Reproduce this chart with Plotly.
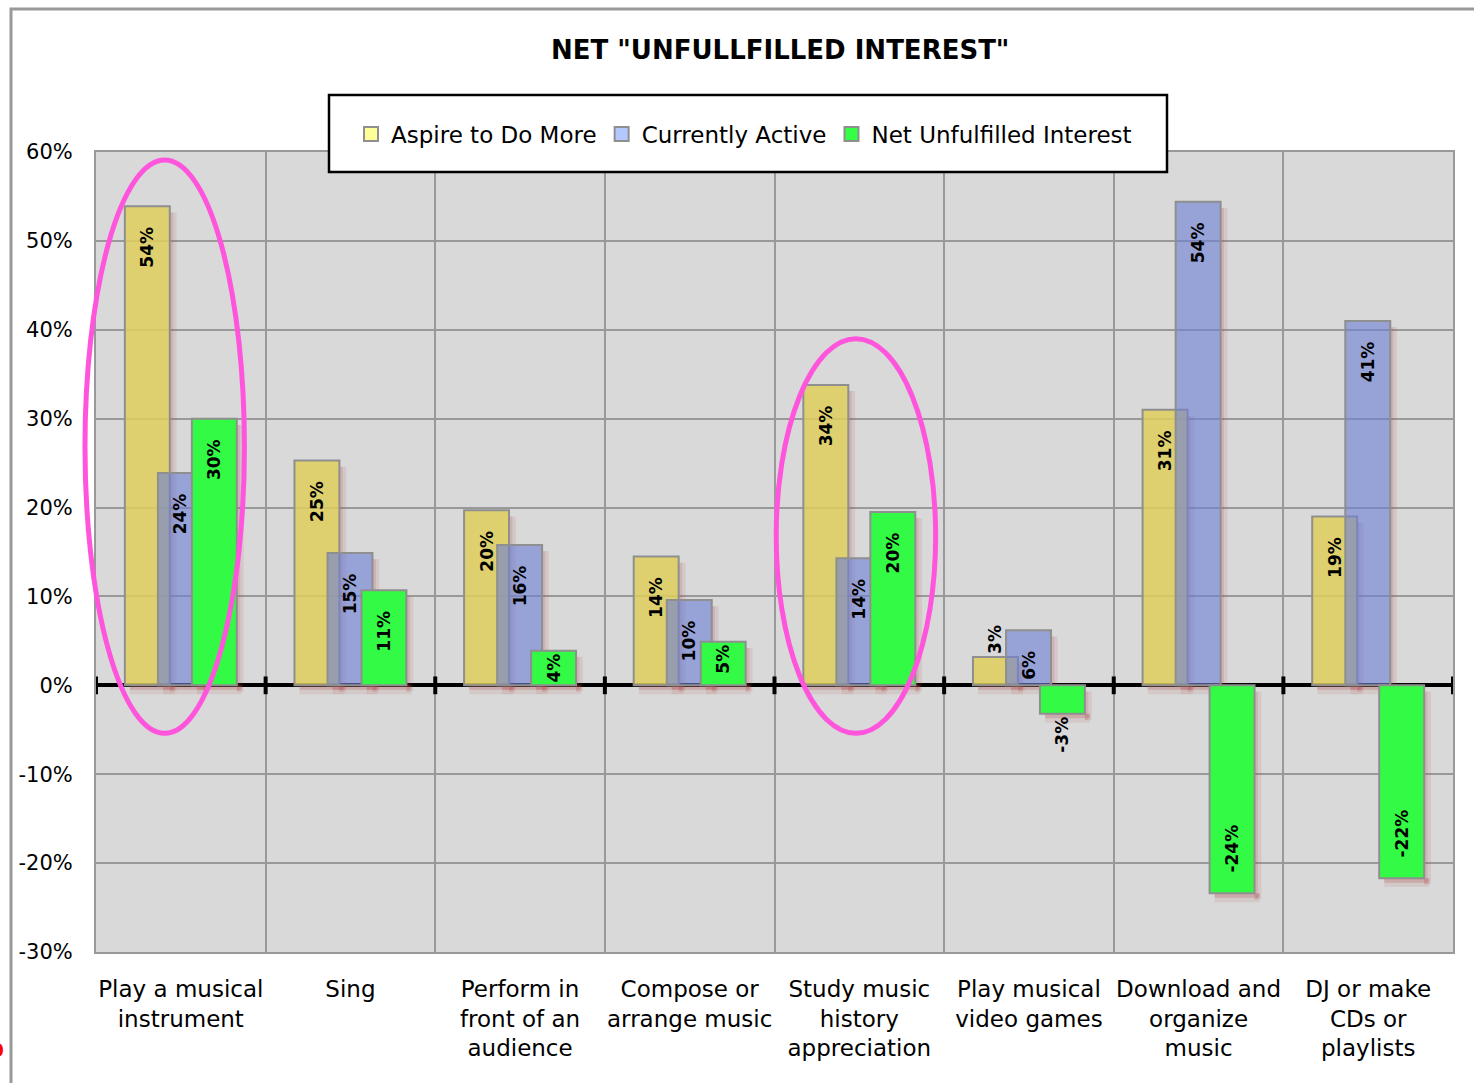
import plotly.graph_objects as go

# ---------------- data ----------------
categories = [
    "Play a musical<br>instrument",
    "Sing",
    "Perform in<br>front of an<br>audience",
    "Compose or<br>arrange music",
    "Study music<br>history<br>appreciation",
    "Play musical<br>video games",
    "Download and<br>organize<br>music",
    "DJ or make<br>CDs or<br>playlists",
]
aspire = [53.9, 25.3, 19.7, 14.5, 33.8, 3.2, 31.0, 19.0]
active = [23.9, 14.9, 15.8, 9.6, 14.3, 6.2, 54.4, 41.0]
net = [30.0, 10.7, 3.9, 4.9, 19.5, -3.2, -23.4, -21.7]
aspire_labels = ["54%", "25%", "20%", "14%", "34%", "3%", "31%", "19%"]
active_labels = ["24%", "15%", "16%", "10%", "14%", "6%", "54%", "41%"]
net_labels = ["30%", "11%", "4%", "5%", "20%", "-3%", "-24%", "-22%"]
series_names = ["Aspire to Do More", "Currently Active", "Net Unfulfilled Interest"]
highlighted = [0, 4]
y_ticks = [-30, -20, -10, 0, 10, 20, 30, 40, 50, 60]
y_tick_labels = ["-30%", "-20%", "-10%", "0%", "10%", "20%", "30%", "40%", "50%", "60%"]

# ---------------- geometry helpers ----------------
W, H = 1474, 1083
L, R, T, B = 96, 21, 152, 131
PW, PH = W - L - R, H - T - B
Y_MIN, Y_MAX = -30, 60
N = len(categories)


def px_x(p):
    return (p - L) / PW


def px_y(p):
    return (H - B - p) / PH


def cat_to_paper(x):
    return (x + 0.5) / N


def val_to_paper(v):
    return (v - Y_MIN) / (Y_MAX - Y_MIN)


FONT = "DejaVu Sans"
BAR_W = 0.265
offsets = [-0.33, -0.135, 0.065]
fills = ["rgba(222,206,91,0.85)", "rgba(109,128,212,0.62)", "rgba(51,250,68,1)"]
legend_fills = ["#FFFF99", "#B3C8FF", "#33FF44"]
values = [aspire, active, net]
labels = [aspire_labels, active_labels, net_labels]
ellipse_shift = {0: -0.095, 4: -0.02}
ELL_HALF_W = 0.47
NBSP = "\u00a0"
SHADOW = "rgba(175,70,70,{a})"

fig = go.Figure()

# soft drop shadows: a strip on the right side and a strip below each bar
for vals, off in zip(values, offsets):
    for dx, w, a in [(0.0, 0.02, 0.26), (0.02, 0.02, 0.12)]:
        fig.add_trace(go.Bar(
            x=categories, y=vals, base=-0.7, width=w, offset=off + BAR_W + dx,
            marker=dict(color=SHADOW.format(a=a), line=dict(width=0)),
            showlegend=False, hoverinfo="skip",
        ))
    lows = [min(v, 0) for v in vals]
    for dy, a in [(-0.5, 0.24), (-1.0, 0.10)]:
        fig.add_trace(go.Bar(
            x=categories, y=[dy] * len(vals), base=lows, width=BAR_W, offset=off + 0.03,
            marker=dict(color=SHADOW.format(a=a), line=dict(width=0)),
            showlegend=False, hoverinfo="skip",
        ))

# bars
for name, vals, labs, off, col in zip(series_names, values, labels, offsets, fills):
    pos = ["outside" if abs(v) < 3.5 else "inside" for v in vals]
    txt = []
    for v, s in zip(vals, labs):
        if abs(v) > 6:
            txt.append(s + NBSP * 3 if v > 0 else NBSP * 3 + s)
        else:
            txt.append(s)
    tf = dict(family=FONT, size=17, color="black", weight="bold")
    fig.add_trace(go.Bar(
        name=name, x=categories, y=vals, width=BAR_W, offset=off,
        text=txt, textposition=pos, textangle=-90,
        insidetextanchor="end",
        textfont=tf, insidetextfont=tf, outsidetextfont=tf,
        constraintext="none", cliponaxis=False,
        marker=dict(color=col, line=dict(color="#8f8f8f", width=2)),
        showlegend=False,
    ))

# legend entries
for name, col in zip(series_names, legend_fills):
    fig.add_trace(go.Scatter(
        name=name, x=[None], y=[None], mode="markers",
        marker=dict(symbol="square", size=14, color=col, line=dict(color="#8f8f8f", width=2)),
        showlegend=True,
    ))

shapes = []
# outer chart frame
shapes.append(dict(type="rect", xref="paper", yref="paper",
                   x0=px_x(11), x1=px_x(1500), y0=px_y(1110), y1=px_y(9),
                   line=dict(color="#999999", width=3), fillcolor="rgba(0,0,0,0)", layer="below"))
# zero-line tick marks at category boundaries
for i in range(N + 1):
    shapes.append(dict(type="line", xref="x", yref="y", x0=i - 0.5, x1=i - 0.5,
                       y0=-1.0, y1=1.0, line=dict(color="black", width=4)))
# legend box
shapes.append(dict(type="rect", xref="paper", yref="paper",
                   x0=px_x(329), x1=px_x(1167), y0=px_y(172), y1=px_y(95),
                   line=dict(color="black", width=2.5), fillcolor="white", layer="above"))
# highlight ellipses (paper refs so they are not clipped by the plot area)
for idx in highlighted:
    top = max(aspire[idx], active[idx], net[idx]) + 5.2
    c = idx + ellipse_shift[idx]
    shapes.append(dict(type="circle", xref="paper", yref="paper",
                       x0=cat_to_paper(c - ELL_HALF_W), x1=cat_to_paper(c + ELL_HALF_W),
                       y0=val_to_paper(-5.4), y1=val_to_paper(top),
                       line=dict(color="#FF55DD", width=5)))

fig.update_layout(
    width=W, height=H,
    margin=dict(l=L, r=R, t=T, b=B, autoexpand=False),
    paper_bgcolor="white", plot_bgcolor="#D9D9D9",
    barmode="overlay",
    font=dict(family=FONT, size=23, color="black"),
    showlegend=True,
    legend=dict(orientation="h", x=px_x(744), xanchor="center",
                y=px_y(134), yanchor="middle", bgcolor="rgba(0,0,0,0)",
                borderwidth=0, font=dict(family=FONT, size=23, color="black"),
                itemwidth=30, traceorder="normal"),
    shapes=shapes,
    annotations=[
        dict(text='NET "UNFULLFILLED INTEREST"', xref="paper", yref="paper",
             x=px_x(780), y=px_y(50), xanchor="center", yanchor="middle",
             showarrow=False, font=dict(family=FONT, size=26, color="black", weight="bold")),
        dict(text="0", xref="paper", yref="paper", x=px_x(6), y=px_y(1050),
             xanchor="right", yanchor="middle", showarrow=False,
             font=dict(family=FONT, size=20, color="red", weight="bold")),
    ],
)

fig.update_xaxes(
    type="category", tickson="boundaries", showgrid=True,
    gridcolor="#999999", gridwidth=2, tickangle=0, automargin=False,
    ticks="", ticklabelstandoff=15,
    tickfont=dict(family=FONT, size=23, color="black"),
    showline=True, linecolor="#999999", linewidth=2, mirror=True,
    range=[-0.5, N - 0.5],
)
fig.update_yaxes(
    range=[Y_MIN, Y_MAX], tickvals=y_ticks, ticktext=y_tick_labels,
    showgrid=True, gridcolor="#999999", gridwidth=2, automargin=False,
    zeroline=True, zerolinecolor="black", zerolinewidth=4,
    ticks="", ticklabelstandoff=17,
    tickfont=dict(family=FONT, size=21, color="black"),
    showline=True, linecolor="#999999", linewidth=2, mirror=True,
)

fig.write_html("out.html")
